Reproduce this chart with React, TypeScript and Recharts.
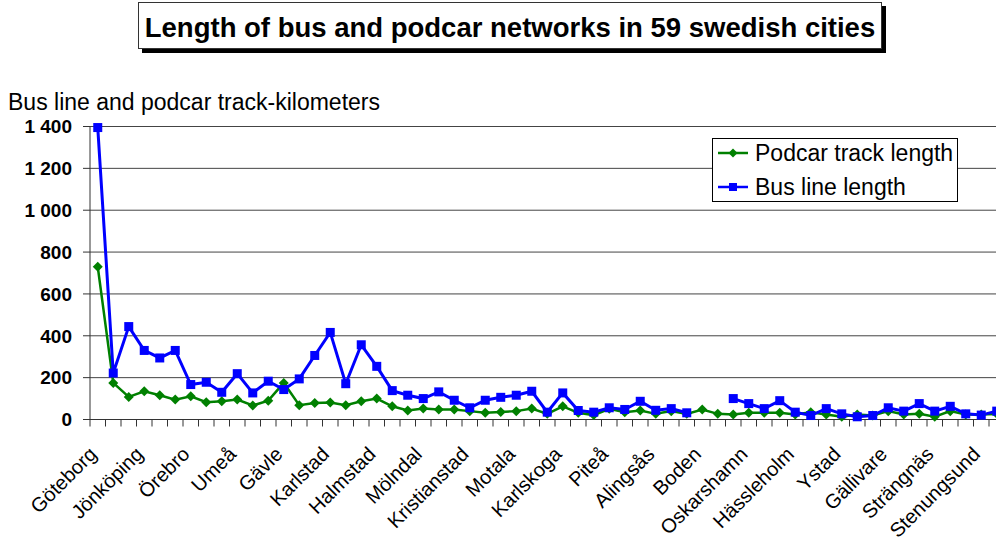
import React from "react";
import { LineChart, Line, XAxis, YAxis, CartesianGrid, Legend } from "recharts";

// 59 cities, only every third one gets a label on the axis
const cities = [
  "Göteborg", "Uppsala", "Västerås", "Jönköping", "Norrköping", "Linköping",
  "Örebro", "Helsingborg", "Lund", "Umeå", "Borås", "Sundsvall",
  "Gävle", "Eskilstuna", "Södertälje", "Karlstad", "Växjö", "Luleå",
  "Halmstad", "Trollhättan", "Östersund", "Mölndal", "Borlänge", "Falun",
  "Kristianstad", "Kalmar", "Skövde", "Motala", "Uddevalla", "Lidköping",
  "Karlskoga", "Nyköping", "Skellefteå", "Piteå", "Varberg", "Landskrona",
  "Alingsås", "Katrineholm", "Kiruna", "Boden", "Kungsbacka", "Köping",
  "Oskarshamn", "Visby", "Sandviken", "Hässleholm", "Enköping", "Ängelholm",
  "Ystad", "Lerum", "Falköping", "Gällivare", "Härnösand", "Vetlanda",
  "Strängnäs", "Kungälv", "Nässjö", "Stenungsund", "Mora",
];

const podcarTrack = [
  730, 175, 108, 135, 116, 95, 111, 83, 87, 95, 67, 90,
  175, 68, 79, 81, 68, 87, 100, 63, 43, 52, 48, 48,
  40, 32, 36, 40, 52, 27, 63, 32, 21, 51, 35, 43,
  27, 40, 27, 48, 27, 24, 32, 32, 32, 24, 35, 24,
  13, 24, 19, 40, 24, 27, 13, 40, 24, 24, 27,
];

const busLine = [
  1395, 222, 444, 330, 294, 330, 167, 178, 130, 219, 127, 183,
  143, 194, 306, 416, 171, 357, 254, 138, 116, 100, 132, 92,
  56, 92, 106, 116, 135, 35, 127, 43, 35, 56, 48, 87,
  44, 52, 32, null, null, 100, 76, 52, 90, 35, 19, 52,
  27, 13, 19, 56, 40, 76, 40, 63, 27, 21, 40,
];

const yTicks = [0, 200, 400, 600, 800, 1000, 1200, 1400];

const FONT = "'Liberation Sans', Arial, Helvetica, sans-serif";
const BLUE = "#0000ff";
const GREEN = "#008000";
const STEP = 15.5;

const data = cities.map((city, i) => ({
  city,
  podcar: podcarTrack[i],
  bus: busLine[i],
}));

const fmt = (v: number) => String(v).replace(/\B(?=(\d{3})+(?!\d))/g, " ");

function Square(props: any) {
  const { cx, cy, index } = props;
  if (cx == null || cy == null) return <g key={`sq-${index}`} />;
  return <rect key={`sq-${index}`} x={cx - 4.5} y={cy - 4.5} width={9} height={9} fill={BLUE} />;
}

function Diamond(props: any) {
  const { cx, cy, index } = props;
  if (cx == null || cy == null) return <g key={`dm-${index}`} />;
  const r = 5;
  return (
    <polygon
      key={`dm-${index}`}
      points={`${cx},${cy - r} ${cx + r},${cy} ${cx},${cy + r} ${cx - r},${cy}`}
      fill={GREEN}
    />
  );
}

function CityTick(props: any) {
  const { x, y, index, payload } = props;
  const bx = x - STEP / 2;
  const tx = x;
  const ty = y + 36;
  return (
    <g>
      <line x1={bx} y1={y} x2={bx} y2={y + 7} stroke="#333" />
      {index % 3 === 0 && (
        <text
          x={tx}
          y={ty}
          textAnchor="end"
          transform={`rotate(-45, ${tx}, ${ty})`}
          fontSize={20}
          fontFamily={FONT}
          fill="#000"
        >
          {payload.value}
        </text>
      )}
    </g>
  );
}

function LegendBox() {
  const rows = [
    { label: "Podcar track length", color: GREEN, shape: "diamond", top: 0 },
    { label: "Bus line length", color: BLUE, shape: "square", top: 34 },
  ];
  return (
    <div
      style={{
        position: "relative",
        width: 246,
        height: 64,
        boxSizing: "border-box",
        border: "1px solid #000",
        background: "#fff",
        fontFamily: FONT,
        fontSize: 23,
        color: "#000",
      }}
    >
      {rows.map((r) => (
        <div
          key={r.label}
          style={{
            position: "absolute",
            left: 0,
            top: r.top,
            height: 28,
            display: "flex",
            alignItems: "center",
            whiteSpace: "nowrap",
          }}
        >
          <svg width={30} height={12} style={{ marginLeft: 5, marginRight: 7 }}>
            <line x1={0} y1={6} x2={30} y2={6} stroke={r.color} strokeWidth={2.5} />
            {r.shape === "square" ? (
              <rect x={11} y={2} width={8} height={8} fill={r.color} />
            ) : (
              <polygon points="15,1.5 19.5,6 15,10.5 10.5,6" fill={r.color} />
            )}
          </svg>
          <span>{r.label}</span>
        </div>
      ))}
    </div>
  );
}

export default function App() {
  return (
    <div
      style={{
        position: "fixed",
        left: 0,
        top: 0,
        width: 996,
        height: 541,
        overflow: "hidden",
        background: "#fff",
        fontFamily: FONT,
      }}
    >
      <div style={{ position: "absolute", left: 0, top: 0 }}>
        <LineChart
          width={1010}
          height={541}
          data={data}
          margin={{ top: 126.5, right: 5.5, bottom: 0, left: 0 }}
        >
          <CartesianGrid vertical={false} stroke="#444" />
          <XAxis
            dataKey="city"
            interval={0}
            padding={{ left: STEP / 2, right: STEP / 2 }}
            height={121.5}
            tickLine={false}
            tickSize={0}
            tickMargin={0}
            axisLine={{ stroke: "#333" }}
            tick={<CityTick />}
          />
          <YAxis
            width={90}
            domain={[0, 1400]}
            ticks={yTicks}
            interval={0}
            tickFormatter={fmt}
            tickSize={7}
            tickMargin={11}
            axisLine={{ stroke: "#333" }}
            tickLine={{ stroke: "#333" }}
            tick={{ fill: "#000", fontSize: 19, fontWeight: 700, fontFamily: FONT }}
          />
          <Legend
            layout="vertical"
            align="center"
            verticalAlign="middle"
            content={() => <LegendBox />}
            wrapperStyle={{ left: 712, top: 138, width: 246, height: 64 }}
          />
          <Line
            dataKey="podcar"
            name="Podcar track length"
            stroke={GREEN}
            strokeWidth={2.5}
            dot={Diamond}
            activeDot={false}
            isAnimationActive={false}
          />
          <Line
            dataKey="bus"
            name="Bus line length"
            stroke={BLUE}
            strokeWidth={3}
            dot={Square}
            activeDot={false}
            isAnimationActive={false}
          />
        </LineChart>
      </div>
      <div
        style={{
          position: "absolute",
          left: 138,
          top: 2,
          width: 744,
          height: 47,
          boxSizing: "border-box",
          border: "1px solid #333",
          boxShadow: "4px 4px 0 #000",
          background: "#fff",
          textAlign: "center",
          fontWeight: 700,
          fontSize: 27.5,
          lineHeight: "49px",
          whiteSpace: "nowrap",
        }}
      >
        Length of bus and podcar networks in 59 swedish cities
      </div>
      <div
        style={{
          position: "absolute",
          left: 8,
          top: 91,
          fontSize: 23,
          lineHeight: "23px",
          whiteSpace: "nowrap",
        }}
      >
        Bus line and podcar track-kilometers
      </div>
    </div>
  );
}
